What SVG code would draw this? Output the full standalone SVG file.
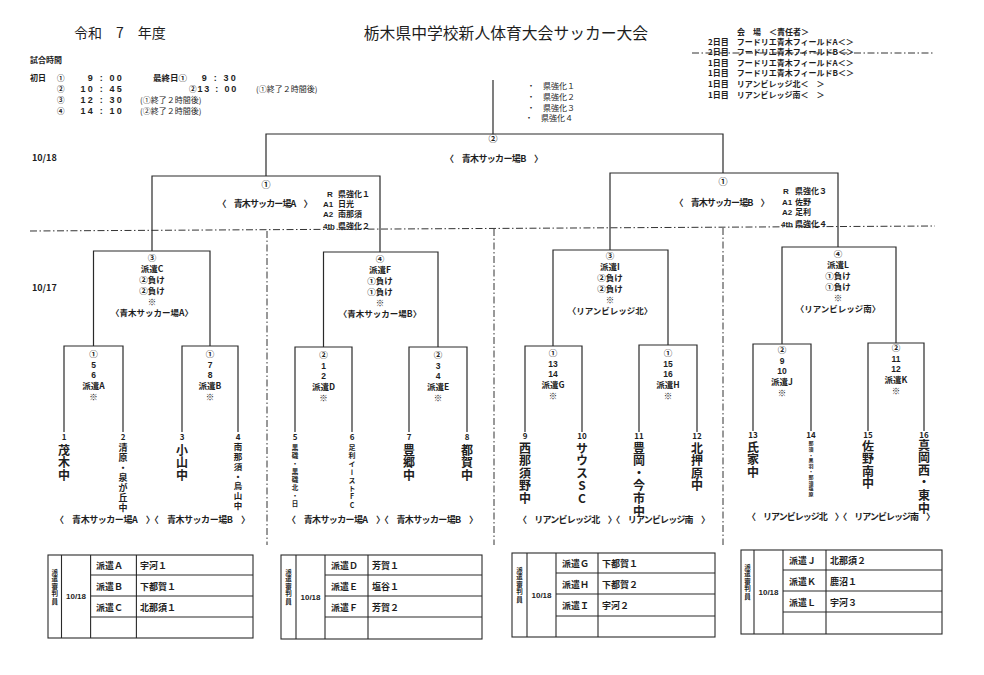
<svg xmlns="http://www.w3.org/2000/svg" width="984" height="675" viewBox="0 0 984 675">
<style>
text{font-family:"Noto Sans CJK JP","Noto Sans",sans-serif;fill:#1e1e1e}
.n{font-family:"Liberation Sans",Arial,sans-serif}
.b{font-weight:bold}
.s9{font-size:9px}
.s85{font-size:8.5px}
.s8{font-size:8px}
.cn{font-size:7.5px;font-weight:bold}
.c{text-anchor:middle}
.ln{stroke:#2a2a2a;stroke-width:1.2;fill:none}
.dd{stroke:#333;stroke-width:1;fill:none;stroke-dasharray:7 2.5 1.5 2.5}
.v{writing-mode:vertical-rl;text-orientation:upright;font-weight:bold}
.big{font-size:12px;letter-spacing:0.6px}
.tb{stroke:#2a2a2a;stroke-width:1.1;fill:none}
.tm{font-family:"Liberation Sans",Arial,sans-serif;font-weight:bold;font-size:9px;text-anchor:end;letter-spacing:2.2px}
</style>
<rect width="984" height="675" fill="#fff"/>

<g id="header">
<text x="74" y="38" style="font-size:14px">令和　7　年度</text>
<text x="506" y="39" class="c" style="font-size:15.8px">栃木県中学校新人体育大会サッカー大会</text>
<text x="30" y="63" class="b s8">試合時間</text>
<text x="30" y="81" class="b s8">初日</text>
<text x="57" y="81" class="cn">①</text>
<text x="124" y="81" class="tm">9 : 00</text>
<text x="153" y="81" class="b s85">最終日①</text>
<text x="238" y="81" class="tm">9 : 30</text>
<text x="57" y="92" class="cn">②</text>
<text x="124" y="92" class="tm">10 : 45</text>
<text x="189" y="92" class="cn">②</text>
<text x="238" y="92" class="tm" style="letter-spacing:1.8px">13 : 00</text>
<text x="256" y="92" class="s8">(①終了２時間後)</text>
<text x="57" y="103" class="cn">③</text>
<text x="124" y="103" class="tm">12 : 30</text>
<text x="140" y="103" class="s8">(①終了２時間後)</text>
<text x="57" y="114" class="cn">④</text>
<text x="124" y="114" class="tm">14 : 10</text>
<text x="140" y="114" class="s8">(②終了２時間後)</text>
</g>

<g id="venues" class="b s8">
<text x="737" y="35">会　場　＜責任者＞</text>
<text x="708" y="45">2日目　フードリエ青木フィールドA＜＞</text>
<text x="708" y="55">2日目　フードリエ青木フィールドB＜＞</text>
<text x="708" y="66">1日目　フードリエ青木フィールドA＜＞</text>
<text x="708" y="76">1日目　フードリエ青木フィールドB＜＞</text>
<text x="708" y="87">1日目　リアンビレッジ北＜　＞</text>
<text x="708" y="98">1日目　リアンビレッジ南＜　＞</text>
</g>

<g id="pref" class="s8">
<text x="527" y="89">・　県強化１</text>
<text x="527" y="100">・　県強化２</text>
<text x="527" y="111">・　県強化３</text>
<text x="525" y="121">・　県強化４</text>
</g>

<g id="dates" class="b n" style="font-size:9px">
<text x="32" y="161">10/18</text>
<text x="32" y="291">10/17</text>
</g>

<g id="connectors">
<path class="dd" d="M30 231 L935 226"/>
<path class="dd" d="M692 53 L933 53"/>
<path class="dd" d="M267 231 V545"/>
<path class="dd" d="M494 229 V545"/>
<path class="dd" d="M723 228 V545"/>
<path class="ln" d="M493 80 V134 M266 176 V134 H723 V173"/>
<path class="ln" d="M152 251 V176 H380 V252"/>
<path class="ln" d="M610 250 V173 H838 V247"/>
<path class="ln" d="M93.5 346 V251 H210 V346"/>
<path class="ln" d="M323.5 347 V252 H438 V347"/>
<path class="ln" d="M553 346 V250 H668 V345"/>
<path class="ln" d="M782 344 V247 H896 V343"/>
<path class="ln" d="M64 432 V346 H123 V432"/>
<path class="ln" d="M182 432 V346 H238 V432"/>
<path class="ln" d="M295 432 V347 H352 V432"/>
<path class="ln" d="M409 432 V347 H467 V432"/>
<path class="ln" d="M525 432 V346 H582 V432"/>
<path class="ln" d="M639 432 V345 H697 V432"/>
<path class="ln" d="M753 431 V344 H811 V431"/>
<path class="ln" d="M868 431 V343 H924 V431"/>
</g>

<g id="final">
<text x="493" y="142" class="b s9 c">②</text>
<text x="494" y="162" class="b s9 c" textLength="98">〈　青木サッカー場B　〉</text>
</g>

<g id="semi-left">
<text x="266" y="188" class="b s9 c">①</text>
<text x="265" y="207" class="b s9 c" textLength="95">〈　青木サッカー場A　〉</text>
<text x="327" y="197" class="b s8 n">R</text>
<text x="338" y="197" class="b s8">県強化１</text>
<text x="323" y="207" class="b s8 n">A1</text>
<text x="338" y="207" class="b s8">日光</text>
<text x="323" y="217" class="b s8 n">A2</text>
<text x="338" y="217" class="b s8">南那須</text>
<text x="323" y="229" class="b s8 n">4th</text>
<text x="338" y="229" class="b s8">県強化２</text>
</g>

<g id="semi-right">
<text x="723" y="185" class="b s9 c">①</text>
<text x="722" y="206" class="b s9 c" textLength="95">〈　青木サッカー場B　〉</text>
<text x="783" y="194" class="b s8 n">R</text>
<text x="795" y="194" class="b s8">県強化３</text>
<text x="782" y="205" class="b s8 n">A1</text>
<text x="795" y="205" class="b s8">佐野</text>
<text x="782" y="215" class="b s8 n">A2</text>
<text x="795" y="215" class="b s8">足利</text>
<text x="781" y="227" class="b s8 n">4th</text>
<text x="795" y="227" class="b s8">県強化４</text>
</g>

<g id="qf-C" class="b s85 c">
<text x="152" y="261">③</text><text x="152" y="272">派遣C</text><text x="152" y="283">②負け</text><text x="152" y="294">②負け</text><text x="152" y="305">※</text><text x="152" y="316">〈青木サッカー場A〉</text>
</g>
<g id="qf-F" class="b s85 c">
<text x="380" y="262">④</text><text x="380" y="273">派遣F</text><text x="380" y="284">①負け</text><text x="380" y="295">①負け</text><text x="380" y="306">※</text><text x="380" y="317">〈青木サッカー場B〉</text>
</g>
<g id="qf-I" class="b s85 c">
<text x="610" y="259">③</text><text x="610" y="270">派遣I</text><text x="610" y="281">②負け</text><text x="610" y="292">②負け</text><text x="610" y="303">※</text><text x="610" y="314">〈リアンビレッジ北〉</text>
</g>
<g id="qf-L" class="b s85 c">
<text x="838" y="257">④</text><text x="838" y="268">派遣L</text><text x="838" y="279">①負け</text><text x="838" y="290">①負け</text><text x="838" y="301">※</text><text x="838" y="312">〈リアンビレッジ南〉</text>
</g>

<g id="r1-A" class="b s85 c"><text x="93.5" y="357">①</text><text x="93.5" y="367.5" class="n">5</text><text x="93.5" y="378" class="n">6</text><text x="93.5" y="389">派遣A</text><text x="93.5" y="400">※</text></g>
<g id="r1-B" class="b s85 c"><text x="210" y="357">①</text><text x="210" y="367.5" class="n">7</text><text x="210" y="378" class="n">8</text><text x="210" y="389">派遣B</text><text x="210" y="400">※</text></g>
<g id="r1-D" class="b s85 c"><text x="323.5" y="358">②</text><text x="323.5" y="368.5" class="n">1</text><text x="323.5" y="379" class="n">2</text><text x="323.5" y="390">派遣D</text><text x="323.5" y="401">※</text></g>
<g id="r1-E" class="b s85 c"><text x="438" y="358">②</text><text x="438" y="368.5" class="n">3</text><text x="438" y="379" class="n">4</text><text x="438" y="390">派遣E</text><text x="438" y="401">※</text></g>
<g id="r1-G" class="b s85 c"><text x="553" y="356">①</text><text x="553" y="366.5" class="n">13</text><text x="553" y="377" class="n">14</text><text x="553" y="388">派遣G</text><text x="553" y="399">※</text></g>
<g id="r1-H" class="b s85 c"><text x="668" y="356">①</text><text x="668" y="366.5" class="n">15</text><text x="668" y="377" class="n">16</text><text x="668" y="388">派遣H</text><text x="668" y="399">※</text></g>
<g id="r1-J" class="b s85 c"><text x="782" y="353">②</text><text x="782" y="363.5" class="n">9</text><text x="782" y="374" class="n">10</text><text x="782" y="385">派遣J</text><text x="782" y="396">※</text></g>
<g id="r1-K" class="b s85 c"><text x="896" y="351">②</text><text x="896" y="361.5" class="n">11</text><text x="896" y="372" class="n">12</text><text x="896" y="383">派遣K</text><text x="896" y="394">※</text></g>

<g id="team-numbers" class="b c n" style="font-size:8px">
<text x="64" y="440">1</text><text x="123" y="440">2</text><text x="182" y="440">3</text><text x="238" y="440">4</text>
<text x="295" y="440">5</text><text x="352" y="440">6</text><text x="409" y="440">7</text><text x="467" y="440">8</text>
<text x="525" y="439">9</text><text x="582" y="439">10</text><text x="639" y="439">11</text><text x="697" y="439">12</text>
<text x="753" y="438">13</text><text x="811" y="438">14</text><text x="868" y="438">15</text><text x="924" y="438">16</text>
</g>

<g id="team-1"><text x="64" y="444" class="v big">茂木中</text></g>
<g id="team-2"><text x="123" y="443" class="v" style="font-size:9px;letter-spacing:1px">清原・泉が丘中</text></g>
<g id="team-3"><text x="182" y="444" class="v big">小山中</text></g>
<g id="team-4"><text x="238" y="443" class="v" style="font-size:8.5px;letter-spacing:1.2px">南那須・烏山中</text></g>
<g id="team-5"><text x="295" y="444" class="v" style="font-size:6.5px;letter-spacing:1.5px">黒磯・黒磯北・日</text></g>
<g id="team-6"><text x="352" y="444" class="v" style="font-size:7px;letter-spacing:1.2px">足利イーストFC</text></g>
<g id="team-7"><text x="409" y="444" class="v big">豊郷中</text></g>
<g id="team-8"><text x="467" y="444" class="v big">都賀中</text></g>
<g id="team-9"><text x="525" y="442" class="v big">西那須野中</text></g>
<g id="team-10"><text x="582" y="442" class="v big">サウスSC</text></g>
<g id="team-11"><text x="639" y="442" class="v big">豊岡・今市中</text></g>
<g id="team-12"><text x="697" y="442" class="v big">北押原中</text></g>
<g id="team-13"><text x="753" y="441" class="v big">氏家中</text></g>
<g id="team-14"><text x="811" y="441" class="v" style="font-size:5px;letter-spacing:0.6px">那須・黒羽・那須塩原</text></g>
<g id="team-15"><text x="868" y="440" class="v big">佐野南中</text></g>
<g id="team-16"><text x="924" y="439" class="v big">真岡西・東中</text></g>

<g id="venue-labels" class="b s9">
<text x="55" y="523" textLength="195">〈　青木サッカー場A　〉〈　青木サッカー場B　〉</text>
<text x="287" y="523" textLength="191">〈　青木サッカー場A　〉〈　青木サッカー場B　〉</text>
<text x="518" y="523" textLength="192">〈　リアンビレッジ北　〉〈　リアンビレッジ南　〉</text>
<text x="747" y="520" textLength="188">〈　リアンビレッジ北　〉〈　リアンビレッジ南　〉</text>
</g>

<g id="table-1">
<rect class="tb" x="48" y="555" width="205" height="83"/>
<path class="tb" d="M61.5 555 V638 M90.6 555 V638 M136.4 555 V638 M90.6 575 H253 M90.6 596 H253 M90.6 617 H253"/>
<text x="54.8" y="568" class="v" style="font-size:6.5px;letter-spacing:1px">派遣審判員</text>
<text x="76" y="599" class="b c n" style="font-size:8px">10/18</text>
<text x="96" y="569" class="b s9">派遣Ａ</text><text x="140" y="569" class="b s9">宇河１</text>
<text x="96" y="590" class="b s9">派遣Ｂ</text><text x="140" y="590" class="b s9">下都賀１</text>
<text x="96" y="611" class="b s9">派遣Ｃ</text><text x="140" y="611" class="b s9">北那須１</text>
</g>
<g id="table-2">
<rect class="tb" x="281" y="555" width="201" height="84"/>
<path class="tb" d="M296 555 V639 M325 555 V639 M368 555 V639 M325 575 H482 M325 596 H482 M325 617 H482"/>
<text x="288.5" y="568" class="v" style="font-size:6.5px;letter-spacing:1px">派遣審判員</text>
<text x="310.5" y="600" class="b c n" style="font-size:8px">10/18</text>
<text x="331" y="569" class="b s9">派遣Ｄ</text><text x="372" y="569" class="b s9">芳賀１</text>
<text x="331" y="590" class="b s9">派遣Ｅ</text><text x="372" y="590" class="b s9">塩谷１</text>
<text x="331" y="611" class="b s9">派遣Ｆ</text><text x="372" y="611" class="b s9">芳賀２</text>
</g>
<g id="table-3">
<rect class="tb" x="512" y="553" width="203" height="84"/>
<path class="tb" d="M527 553 V637 M556 553 V637 M598 553 V637 M556 573 H715 M556 594 H715 M556 616 H715"/>
<text x="519.5" y="566" class="v" style="font-size:6.5px;letter-spacing:1px">派遣審判員</text>
<text x="541.5" y="598" class="b c n" style="font-size:8px">10/18</text>
<text x="562" y="567" class="b s9">派遣Ｇ</text><text x="602" y="567" class="b s9">下都賀１</text>
<text x="562" y="588" class="b s9">派遣Ｈ</text><text x="602" y="588" class="b s9">下都賀２</text>
<text x="562" y="609" class="b s9">派遣Ｉ</text><text x="602" y="609" class="b s9">宇河２</text>
</g>
<g id="table-4">
<rect class="tb" x="741" y="550" width="201" height="84"/>
<path class="tb" d="M754 550 V634 M783 550 V634 M826 550 V634 M783 570 H942 M783 591 H942 M783 612 H942"/>
<text x="747.5" y="563" class="v" style="font-size:6.5px;letter-spacing:1px">派遣審判員</text>
<text x="768.5" y="595" class="b c n" style="font-size:8px">10/18</text>
<text x="789" y="564" class="b s9">派遣Ｊ</text><text x="830" y="564" class="b s9">北那須２</text>
<text x="789" y="585" class="b s9">派遣Ｋ</text><text x="830" y="585" class="b s9">鹿沼１</text>
<text x="789" y="606" class="b s9">派遣Ｌ</text><text x="830" y="606" class="b s9">宇河３</text>
</g>
</svg>
